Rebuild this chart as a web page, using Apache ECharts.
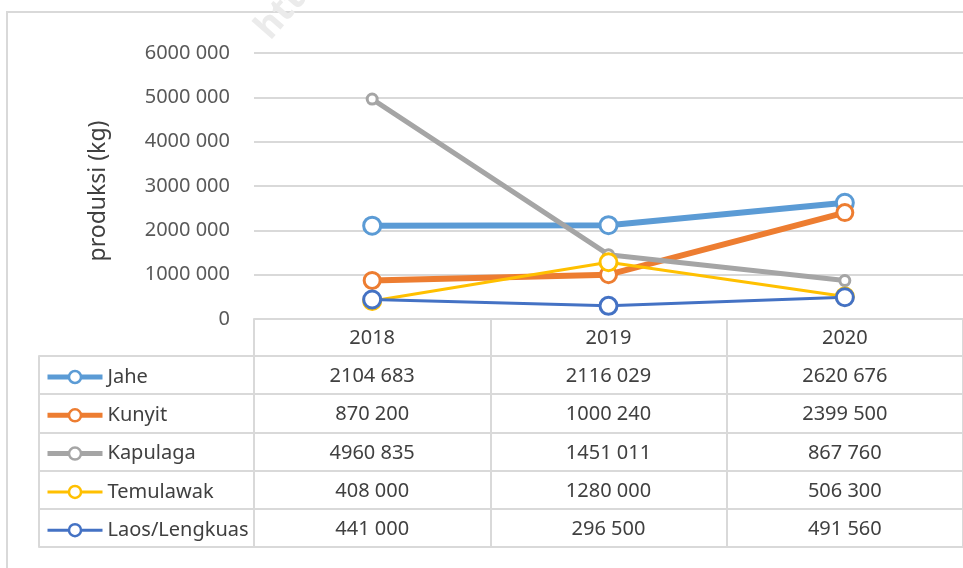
<!DOCTYPE html>
<html><head><meta charset="utf-8">
<script src="https://cdn.jsdelivr.net/npm/echarts@6/dist/echarts.min.js"></script>
<style>
html,body{margin:0;padding:0;background:#fff;overflow:hidden;width:963px;height:568px;}
#frame{position:absolute;left:6px;top:11px;width:1000px;height:600px;border:2px solid #d9d9d9;box-sizing:border-box;}
#chart{position:absolute;left:0;top:0;width:963px;height:568px;}
</style></head><body>
<div id="frame"></div>
<div id="chart"></div>
<script>
const years = ['2018', '2019', '2020'];
const seriesNames = ['Jahe', 'Kunyit', 'Kapulaga', 'Temulawak', 'Laos/Lengkuas'];
const jahe = [2104683, 2116029, 2620676];
const kunyit = [870200, 1000240, 2399500];
const kapulaga = [4960835, 1451011, 867760];
const temulawak = [408000, 1280000, 506300];
const laos = [441000, 296500, 491560];
const yMin = 0, yMax = 6000000, yStep = 1000000;
const yName = 'produksi (kg)';
const allValues = [jahe, kunyit, kapulaga, temulawak, laos];

const colors = ['#5B9BD5', '#ED7D31', '#A5A5A5', '#FFC000', '#4472C4'];
const lineWidths = [6, 6, 5, 3, 3];
const legendLineWidths = [5, 5, 5, 3, 3];
const symbolSizes = [17, 16, 10, 17, 17];
const FONT = 'Noto Sans';

function fmt(v) {
  if (v < 1000) return String(v);
  const t = Math.floor(v / 1000), r = v % 1000;
  return t + ' ' + String(r).padStart(3, '0');
}

const chart = echarts.init(document.getElementById('chart'), null, {renderer: 'canvas'});
const option = {
  animation: false,
  textStyle: {fontFamily: FONT},
  grid: [
    {left: 254, right: -7, top: 53, bottom: 249},
    {left: 39, right: -7, top: 356, bottom: 21}
  ],
  legend: {
    data: seriesNames.map((n, i) => ({
      name: n,
      lineStyle: {width: legendLineWidths[i], color: colors[i]},
      itemStyle: {color: '#ffffff', borderColor: colors[i], borderWidth: 2.5}
    })),
    orient: 'vertical',
    left: 45, top: 367, height: 400, padding: 0,
    itemWidth: 55, itemHeight: 15, itemGap: 18.3,
    selectedMode: false,
    textStyle: {fontSize: 20, color: '#404040', fontFamily: FONT}
  },
  xAxis: [
    {
      type: 'category', data: years, gridIndex: 0,
      axisLine: {show: true, lineStyle: {color: '#d9d9d9', width: 2}},
      axisTick: {show: true, interval: 0, length: 228, lineStyle: {color: '#d9d9d9', width: 2}},
      axisLabel: {
        interval: 0, margin: 0, fontSize: 20, color: '#404040', lineHeight: 38.3,
        fontFamily: FONT,
        formatter: function (val, idx) {
          return [val].concat(allValues.map(arr => fmt(arr[idx]))).join('\n');
        }
      },
      splitLine: {show: false}
    },
    {type: 'value', gridIndex: 1, min: 0, max: 1, show: false}
  ],
  yAxis: [
    {
      type: 'value', gridIndex: 0, min: yMin, max: yMax, interval: yStep,
      name: yName, nameLocation: 'middle', nameRotate: 90, nameGap: 144,
      nameTextStyle: {fontSize: 23, color: '#404040', fontFamily: FONT, padding: [0, 10, 0, 0]},
      axisLine: {show: false}, axisTick: {show: false},
      axisLabel: {margin: 24, fontSize: 20, color: '#595959', fontFamily: FONT, formatter: v => fmt(v)},
      splitLine: {show: true, lineStyle: {color: '#d9d9d9', width: 2}}
    },
    {
      type: 'value', gridIndex: 1, min: 0, max: 5, interval: 1,
      axisLine: {show: true, lineStyle: {color: '#d9d9d9', width: 2}},
      axisTick: {show: false}, axisLabel: {show: false},
      splitLine: {show: true, lineStyle: {color: '#d9d9d9', width: 2}}
    }
  ],
  graphic: [{
    type: 'text', x: 276, y: 46, rotation: 0.85, z: -10, silent: true,
    style: {text: 'htt', fontSize: 36, fontWeight: 'bold', fill: '#ebebeb', fontFamily: FONT, textVerticalAlign: 'bottom'}
  }],
  series: seriesNames.map((name, i) => ({
    name: name, type: 'line', data: allValues[i], xAxisIndex: 0, yAxisIndex: 0,
    color: colors[i],
    symbol: 'circle', symbolSize: symbolSizes[i], showAllSymbol: true,
    lineStyle: {color: colors[i], width: lineWidths[i]},
    itemStyle: {color: '#ffffff', borderColor: colors[i], borderWidth: 3},
    emphasis: {disabled: true},
    z: 2 + i
  }))
};
chart.setOption(option);
</script>
</body></html>
